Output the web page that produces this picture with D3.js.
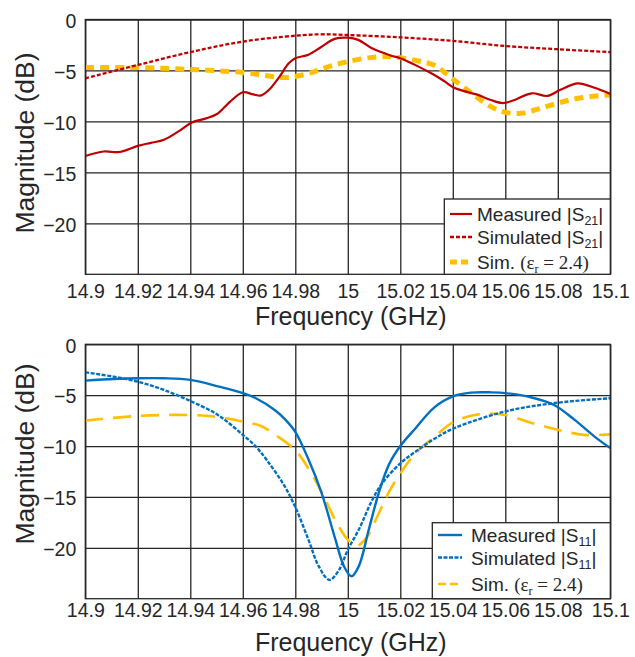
<!DOCTYPE html>
<html>
<head>
<meta charset="utf-8">
<script src="https://cdn.jsdelivr.net/npm/d3@7"></script>
<style>
  body { margin: 0; background: #fff; }
  svg { display: block; }
</style>
</head>
<body>
<div id="chart"></div>
<script>
// tick labels
var xTicks = [14.9, 14.92, 14.94, 14.96, 14.98, 15, 15.02, 15.04, 15.06, 15.08, 15.1];
var yTicks = [0, -5, -10, -15, -20];

// top panel: |S21|
var measS21F = [14.900, 14.907, 14.913, 14.920, 14.925, 14.930, 14.936, 14.9406, 14.946, 14.950, 14.955, 14.960, 14.964, 14.967, 14.970, 14.974, 14.9775, 14.980, 14.985, 14.990, 14.995, 15.000, 15.004, 15.009, 15.016, 15.020, 15.026, 15.033, 15.037, 15.0405, 15.044, 15.049, 15.0545, 15.059, 15.063, 15.070, 15.076, 15.081, 15.0876, 15.094, 15.100];
var measS21 = [-13.4, -12.95, -13.0, -12.4, -12.1, -11.8, -10.9, -10.1, -9.7, -9.3, -8.1, -7.14, -7.35, -7.45, -6.9, -5.6, -4.3, -3.8, -3.45, -2.67, -1.9, -1.78, -2.0, -2.8, -3.5, -3.8, -4.5, -5.45, -6.1, -6.7, -7.0, -7.35, -7.9, -8.2, -7.95, -7.24, -7.5, -6.9, -6.26, -6.7, -7.3];

var simS21F = [14.900, 14.920, 14.940, 14.960, 14.980, 14.990, 15.000, 15.020, 15.040, 15.060, 15.080, 15.100];
var simS21 = [-5.77, -4.46, -3.2, -2.17, -1.59, -1.45, -1.52, -1.75, -2.1, -2.6, -2.92, -3.2];

var epsS21F = [14.900, 14.920, 14.940, 14.960, 14.970, 14.976, 14.980, 14.9865, 14.993, 15.000, 15.0085, 15.0157, 15.020, 15.027, 15.033, 15.0405, 15.048, 15.0545, 15.060, 15.066, 15.0723, 15.080, 15.089, 15.100];
var epsS21 = [-4.7, -4.72, -4.9, -5.2, -5.55, -5.7, -5.6, -5.18, -4.6, -4.13, -3.74, -3.64, -3.74, -4.07, -4.5, -5.93, -7.4, -8.55, -9.1, -9.2, -8.8, -8.2, -7.67, -7.4];

// bottom panel: |S11|
var measS11F = [14.900, 14.911, 14.920, 14.930, 14.940, 14.951, 14.960, 14.965, 14.9724, 14.9762, 14.980, 14.985, 14.990, 14.9953, 14.9985, 15.0014, 15.0042, 15.008, 15.0118, 15.0157, 15.020, 15.0258, 15.033, 15.0405, 15.0468, 15.0545, 15.0608, 15.0697, 15.0786, 15.0863, 15.094, 15.100];
var measS11 = [-3.57, -3.41, -3.34, -3.34, -3.5, -4.16, -4.8, -5.3, -6.5, -7.4, -8.6, -11.3, -14.6, -19.2, -21.8, -22.8, -21.8, -18.2, -14.6, -11.8, -10.0, -8.25, -6.2, -5.08, -4.75, -4.72, -4.82, -5.2, -5.96, -7.4, -9.07, -10.2];

var simS11F = [14.900, 14.9107, 14.920, 14.930, 14.940, 14.949, 14.954, 14.960, 14.9648, 14.9692, 14.9756, 14.980, 14.985, 14.9889, 14.993, 14.9966, 15.000, 15.0042, 15.0093, 15.0131, 15.020, 15.0258, 15.0335, 15.0405, 15.060, 15.080, 15.100];
var simS11 = [-2.75, -3.18, -3.67, -4.49, -5.57, -6.7, -7.6, -8.9, -10.0, -11.4, -13.8, -16.0, -19.2, -21.8, -23.15, -22.2, -20.2, -18.2, -15.3, -13.65, -11.7, -10.55, -9.2, -8.25, -6.6, -5.74, -5.3];

var epsS11F = [14.900, 14.920, 14.940, 14.9514, 14.960, 14.9667, 14.9724, 14.980, 14.985, 14.990, 14.9953, 15.000, 15.0033, 15.007, 15.0118, 15.0157, 15.020, 15.0258, 15.033, 15.0405, 15.0506, 15.060, 15.0697, 15.080, 15.090, 15.100];
var epsS11 = [-7.5, -7.04, -6.95, -7.17, -7.6, -8.0, -8.9, -10.4, -12.2, -14.5, -17.3, -19.2, -19.8, -19.05, -16.6, -14.5, -12.7, -10.7, -9.1, -7.6, -6.85, -6.95, -7.7, -8.4, -8.9, -8.85];

var ink = "#262626";
var sans = "'Liberation Sans', Arial, Helvetica, sans-serif";
var serif = "'Liberation Serif', 'Times New Roman', serif";
var red = "#C00000", yellow = "#FFC000", blue = "#0070C0";

var svg = d3.select("#chart").append("svg")
  .attr("width", 635)
  .attr("height", 657);

function zip(fs, vs) { return fs.map((f, i) => ({f: f, v: vs[i]})); }

function drawPanel(opt)
{
  var x = d3.scaleLinear().domain([14.9, 15.1]).range([opt.left, opt.right]);
  var y = d3.scaleLinear().domain([-25, 0]).range([opt.bottom, opt.top]);

  var g = svg.append("g");

  // grid via axes
  var xAxis = g.append("g")
    .attr("transform", `translate(0,${opt.bottom})`)
    .call(d3.axisBottom(x).tickValues(xTicks).tickFormat(d3.format("~g"))
      .tickSizeInner(-(opt.bottom - opt.top)).tickSizeOuter(0).tickPadding(opt.xPad));
  var yAxis = g.append("g")
    .attr("transform", `translate(${opt.left},0)`)
    .call(d3.axisLeft(y).tickValues(yTicks).tickFormat(d3.format("~g"))
      .tickSizeInner(-(opt.right - opt.left)).tickSizeOuter(0).tickPadding(9));

  [xAxis, yAxis].forEach(function(a) {
    a.select(".domain").remove();
    a.selectAll("line").attr("stroke", ink).attr("stroke-width", 1.3);
    a.selectAll("text").attr("fill", ink).style("font-family", sans).style("font-size", "19.5px");
  });
  yAxis.selectAll("text").attr("dy", "0.4em");

  var clipId = "clip" + opt.id;
  svg.append("clipPath").attr("id", clipId).append("rect")
    .attr("x", opt.left).attr("y", opt.top)
    .attr("width", opt.right - opt.left).attr("height", opt.bottom - opt.top);

  var line = d3.line().x(d => x(d.f)).y(d => y(d.v)).curve(d3.curveCatmullRom.alpha(0.5));

  var lines = g.append("g").attr("clip-path", `url(#${clipId})`);
  opt.series.forEach(function(s) {
    lines.append("path")
      .datum(zip(s.f, s.v))
      .attr("fill", "none")
      .attr("stroke", s.color)
      .attr("stroke-width", s.width)
      .attr("stroke-dasharray", s.dash)
      .attr("d", line);
  });

  // frame
  g.append("rect")
    .attr("x", opt.left).attr("y", opt.top)
    .attr("width", opt.right - opt.left).attr("height", opt.bottom - opt.top)
    .attr("fill", "none").attr("stroke", ink).attr("stroke-width", 1.3);

  // axis titles
  g.append("text")
    .attr("x", (opt.left + opt.right) / 2 + 3)
    .attr("y", opt.xTitleY)
    .attr("text-anchor", "middle")
    .attr("fill", ink).style("font-family", sans).style("font-size", "25px")
    .text("Frequency (GHz)");
  g.append("text")
    .attr("transform", `translate(34,${opt.yTitleMid}) rotate(-90)`)
    .attr("text-anchor", "middle")
    .attr("fill", ink).style("font-family", sans).style("font-size", "26.5px")
    .text("Magnitude (dB)");

  // legend, rows listed top to bottom
  var L = opt.legend;
  var lg = g.append("g");
  lg.append("rect")
    .attr("x", L.x0).attr("y", L.y0)
    .attr("width", opt.right - L.x0).attr("height", opt.bottom - L.y0)
    .attr("fill", "#fff").attr("stroke", ink).attr("stroke-width", 1.3);

  opt.series.slice().reverse().forEach(function(s, i) {
    var yc = L.rows[i];
    lg.append("line")
      .attr("x1", L.lx0).attr("x2", L.lx1)
      .attr("y1", yc).attr("y2", yc)
      .attr("stroke", s.color).attr("stroke-width", s.width)
      .attr("stroke-dasharray", s.legendDash || s.dash);

    var t = lg.append("text")
      .attr("x", L.tx).attr("y", yc + 7)
      .attr("fill", ink).style("font-family", sans).style("font-size", "19px");
    if (s.kind === "eps") {
      t.append("tspan").text("Sim. ");
      t.append("tspan").style("font-family", serif).text("(\u03B5");
      t.append("tspan").style("font-family", serif).style("font-size", "12px").attr("dy", 4).text("r");
      t.append("tspan").style("font-family", serif).attr("dy", -4).text(" = 2.4)");
    } else {
      t.append("tspan").text(s.name + " |S");
      t.append("tspan").style("font-size", "12.5px").attr("dy", 4).text(opt.sub);
      t.append("tspan").attr("dy", -4).text("|");
    }
  });
}

drawPanel({
  id: "top", left: 85.3, right: 610.3, top: 19.5, bottom: 274.3,
  xPad: 10, xTitleY: 325, yTitleMid: 143, sub: "21",
  legend: {x0: 444.3, y0: 199, lx0: 450, lx1: 472, tx: 477, rows: [214, 237, 262]},
  series: [
    {kind: "eps", f: epsS21F, v: epsS21, color: yellow, width: 5, dash: "9,6", legendDash: "7,4"},
    {kind: "sim", name: "Simulated", f: simS21F, v: simS21, color: red, width: 2.3, dash: "4,2"},
    {kind: "meas", name: "Measured", f: measS21F, v: measS21, color: red, width: 2.2, dash: null}
  ]
});

drawPanel({
  id: "bot", left: 85.3, right: 610.3, top: 344.3, bottom: 598.7,
  xPad: 4, xTitleY: 651, yTitleMid: 454, sub: "11",
  legend: {x0: 432.3, y0: 522.7, lx0: 438, lx1: 462, tx: 471, rows: [535, 557.5, 584]},
  series: [
    {kind: "eps", f: epsS11F, v: epsS11, color: yellow, width: 2.6, dash: "18,10", legendDash: "8,4"},
    {kind: "sim", name: "Simulated", f: simS11F, v: simS11, color: blue, width: 2.4, dash: "4,1.5"},
    {kind: "meas", name: "Measured", f: measS11F, v: measS11, color: blue, width: 2.4, dash: null}
  ]
});
</script>
</body>
</html>
